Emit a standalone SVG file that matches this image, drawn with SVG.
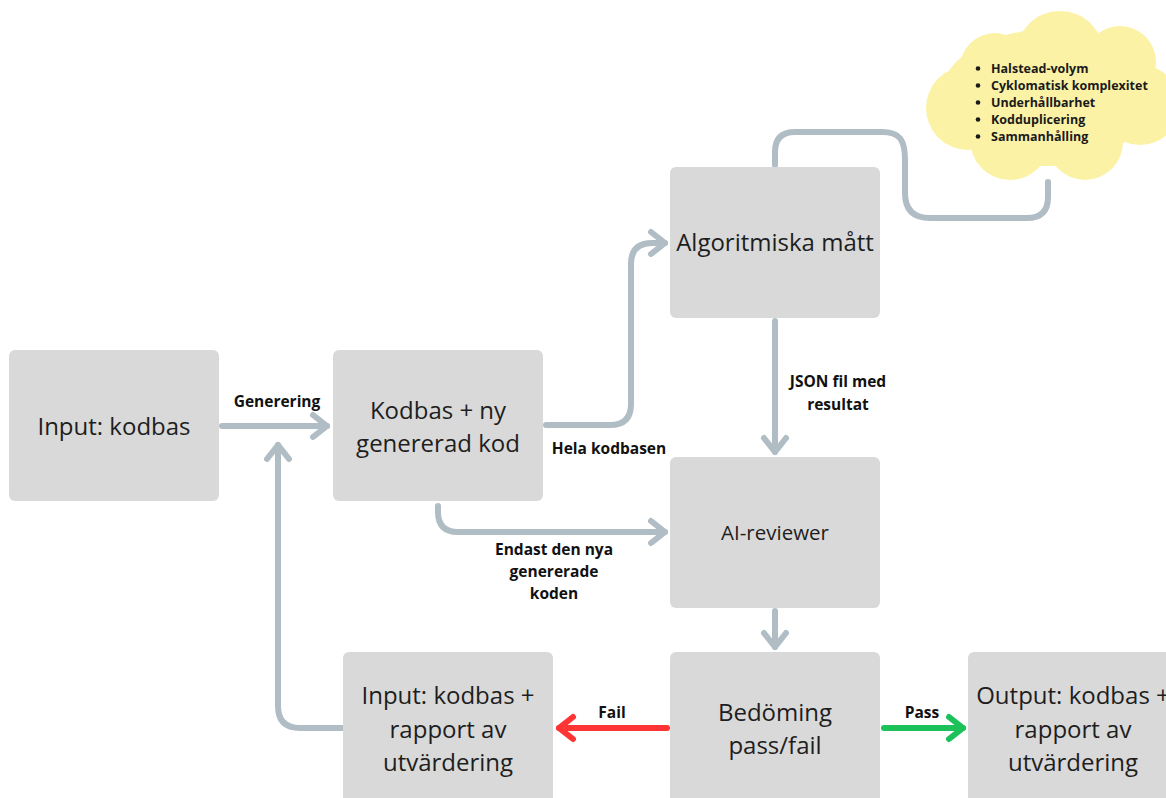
<svg xmlns="http://www.w3.org/2000/svg" width="1166" height="798" viewBox="0 0 1166 798">
<defs>
<style>
.box{fill:#d9d9d9}
.nt{font-family:"Open Sans","Liberation Sans",sans-serif;font-size:24px;fill:#1e1e1e;text-anchor:middle}
.lb{font-family:"Open Sans","Liberation Sans",sans-serif;font-size:15.5px;font-weight:700;fill:#111;text-anchor:middle}
.cl{font-family:"Open Sans","Liberation Sans",sans-serif;font-size:12.5px;font-weight:700;fill:#1a1a1a}
.c{fill:none;stroke:#b1bdc5;stroke-width:6;stroke-linecap:round;stroke-linejoin:round}
.red{stroke:#ff3535}
.green{stroke:#1cc15a}
</style>
<marker id="ag" markerUnits="userSpaceOnUse" viewBox="-20 -15 26 30" refX="0" refY="0" markerWidth="26" markerHeight="30" orient="auto" overflow="visible">
<path d="M-14,-11 L0,0 L-14,11" fill="none" stroke="#b1bdc5" stroke-width="6" stroke-linecap="round" stroke-linejoin="round"/>
</marker>
<marker id="ar" markerUnits="userSpaceOnUse" viewBox="-20 -15 26 30" refX="0" refY="0" markerWidth="26" markerHeight="30" orient="auto" overflow="visible">
<path d="M-14,-11 L0,0 L-14,11" fill="none" stroke="#ff3535" stroke-width="6" stroke-linecap="round" stroke-linejoin="round"/>
</marker>
<marker id="agr" markerUnits="userSpaceOnUse" viewBox="-20 -15 26 30" refX="0" refY="0" markerWidth="26" markerHeight="30" orient="auto" overflow="visible">
<path d="M-14,-11 L0,0 L-14,11" fill="none" stroke="#1cc15a" stroke-width="6" stroke-linecap="round" stroke-linejoin="round"/>
</marker>
</defs>
<rect width="1166" height="798" fill="#ffffff"/>

<g id="connectors">
<path class="c" d="M222,426 H327" marker-end="url(#ag)"/>
<path class="c" d="M343,728 H300 Q278,728 278,706 V445" marker-end="url(#ag)"/>
<path class="c" d="M546,425 H610 Q631,425 631,404 V264 Q631,243 652,243 H665" marker-end="url(#ag)"/>
<path class="c" d="M775,165 V152 Q775,132 795,132 H882 C900,132 905,140 905,160 V193 Q905,218 930,218 H1027 Q1048,218 1048,197 V182"/>
<path class="c" d="M775,321 V452" marker-end="url(#ag)"/>
<path class="c" d="M438,506 V512 Q438,532 458,532 H665" marker-end="url(#ag)"/>
<path class="c" d="M775,611 V647" marker-end="url(#ag)"/>
<path class="c red" d="M667,728 H559" marker-end="url(#ar)"/>
<path class="c green" d="M884,728 H963" marker-end="url(#agr)"/>
<text class="lb" x="277" y="407">Generering</text>
<text class="lb" x="609" y="454">Hela kodbasen</text>
<text class="lb" x="838" y="387">JSON fil med</text>
<text class="lb" x="838" y="410">resultat</text>
<text class="lb" x="554" y="555">Endast den nya</text>
<text class="lb" x="554" y="577">genererade</text>
<text class="lb" x="554" y="599">koden</text>
<text class="lb" x="612" y="718">Fail</text>
<text class="lb" x="922" y="718">Pass</text>
</g>

<g id="cloud">
<g fill="#fcf2a6">
<ellipse cx="1045" cy="98" rx="105" ry="68"/>
<circle cx="995" cy="68" r="35"/>
<circle cx="1060" cy="55" r="44"/>
<circle cx="1120" cy="62" r="36"/>
<circle cx="968" cy="108" r="42"/>
<circle cx="1010" cy="140" r="40"/>
<circle cx="1085" cy="142" r="38"/>
<circle cx="1140" cy="105" r="40"/>
</g>
<text class="cl" x="991" y="73">Halstead-volym</text>
<text class="cl" x="991" y="90">Cyklomatisk komplexitet</text>
<text class="cl" x="991" y="107">Underhållbarhet</text>
<text class="cl" x="991" y="124">Kodduplicering</text>
<text class="cl" x="991" y="141">Sammanhålling</text>
<g fill="#1a1a1a">
<circle cx="978" cy="68.5" r="2.3"/>
<circle cx="978" cy="85.5" r="2.3"/>
<circle cx="978" cy="102.5" r="2.3"/>
<circle cx="978" cy="119.5" r="2.3"/>
<circle cx="978" cy="136.5" r="2.3"/>
</g>
</g>

<g id="n-input">
<rect class="box" x="9" y="350" width="210" height="151" rx="6"/>
<text class="nt" x="114" y="435">Input: kodbas</text>
</g>
<g id="n-kodbas">
<rect class="box" x="333" y="350" width="210" height="151" rx="6"/>
<text class="nt" x="438" y="419">Kodbas + ny</text>
<text class="nt" x="438" y="452">genererad kod</text>
</g>
<g id="n-algo">
<rect class="box" x="670" y="167" width="210" height="151" rx="6"/>
<text class="nt" x="775" y="251">Algoritmiska mått</text>
</g>
<g id="n-ai">
<rect class="box" x="670" y="457" width="210" height="151" rx="6"/>
<text class="nt" x="775" y="540" style="font-size:20.5px">AI-reviewer</text>
</g>
<g id="n-bedoming">
<rect class="box" x="670" y="652" width="210" height="160" rx="6"/>
<text class="nt" x="775" y="721">Bedöming</text>
<text class="nt" x="775" y="754">pass/fail</text>
</g>
<g id="n-retry">
<rect class="box" x="343" y="652" width="210" height="160" rx="6"/>
<text class="nt" x="448" y="704">Input: kodbas +</text>
<text class="nt" x="448" y="738">rapport av</text>
<text class="nt" x="448" y="771">utvärdering</text>
</g>
<g id="n-output">
<rect class="box" x="968" y="652" width="210" height="160" rx="6"/>
<text class="nt" x="1073" y="704">Output: kodbas +</text>
<text class="nt" x="1073" y="738">rapport av</text>
<text class="nt" x="1073" y="771">utvärdering</text>
</g>
</svg>
